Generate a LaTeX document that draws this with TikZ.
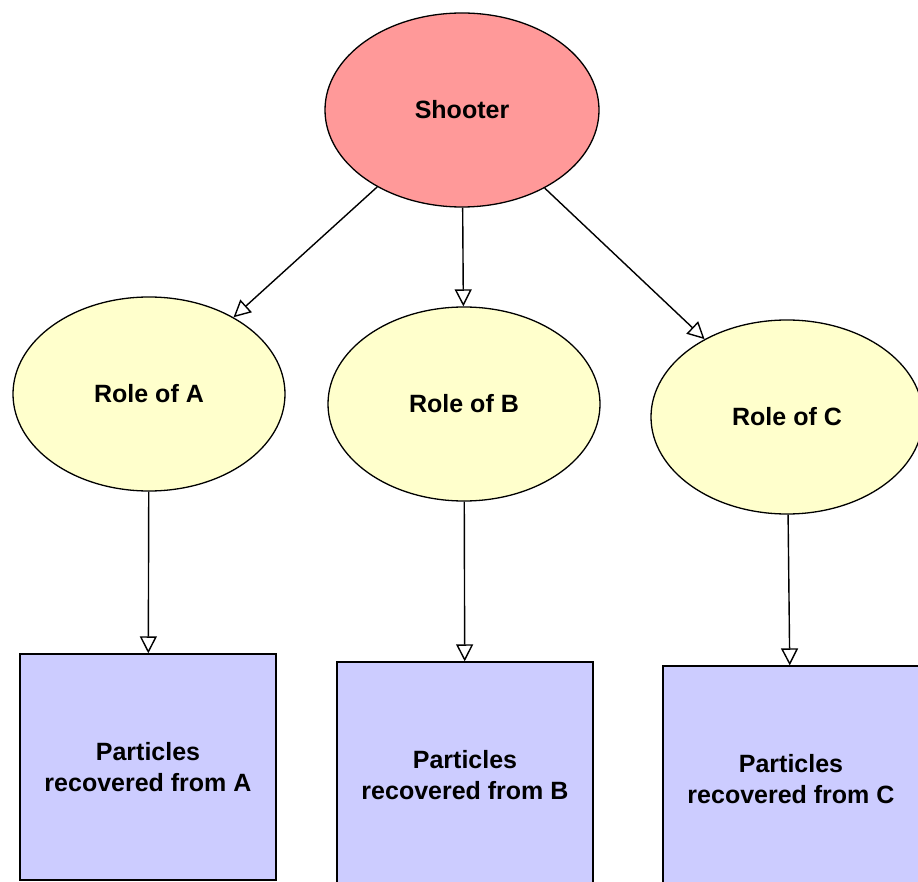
\documentclass[tikz,border=0pt]{standalone}
\usepackage{fontspec}
\setmainfont{Liberation Sans}
\usetikzlibrary{shapes.geometric,arrows.meta}
\definecolor{shootcol}{RGB}{255,153,153}
\definecolor{rolecol}{RGB}{255,255,204}
\definecolor{partcol}{RGB}{204,204,255}
\tikzset{
  txt/.style={font=\fontsize{25}{31}\selectfont\bfseries,align=center},
  shooter/.style={txt,draw,ellipse,fill=shootcol,line width=1.3pt,minimum width=274pt,minimum height=194pt,inner sep=0pt},
  role/.style={txt,draw,ellipse,fill=rolecol,line width=1.3pt,minimum width=272pt,minimum height=194pt,inner sep=0pt},
  partbox/.style={txt,draw,rectangle,fill=partcol,line width=1.3pt,minimum width=256pt,minimum height=226pt,inner sep=0pt},
  arr/.style={line width=1.4pt,-{Triangle[open,length=17pt,width=17pt]}},
}

\begin{document}
\begin{tikzpicture}[x=1pt,y=-1pt]
  \useasboundingbox (0,0) rectangle (918,882);
  \node[shooter] (shooter) at (462,110) {Shooter};
  \node[role] (roleA) at (149,394) {Role of A};
  \node[role] (roleB) at (464,404) {Role of B};
  \node[role] (roleC) at (787,417) {Role of C};
  \node[partbox] (partA) at (148,767) {Particles\\recovered from A};
  \node[partbox] (partB) at (465,775) {Particles\\recovered from B};
  \node[partbox] (partC) at (791,779) {Particles\\recovered from C};
  \draw[arr] (shooter) -- (roleA);
  \draw[arr] (shooter) -- (roleB);
  \draw[arr] (shooter) -- (roleC);
  \draw[arr] (roleA) -- (partA);
  \draw[arr] (roleB) -- (partB);
  \draw[arr] (roleC) -- (partC);
\end{tikzpicture}
\end{document}
